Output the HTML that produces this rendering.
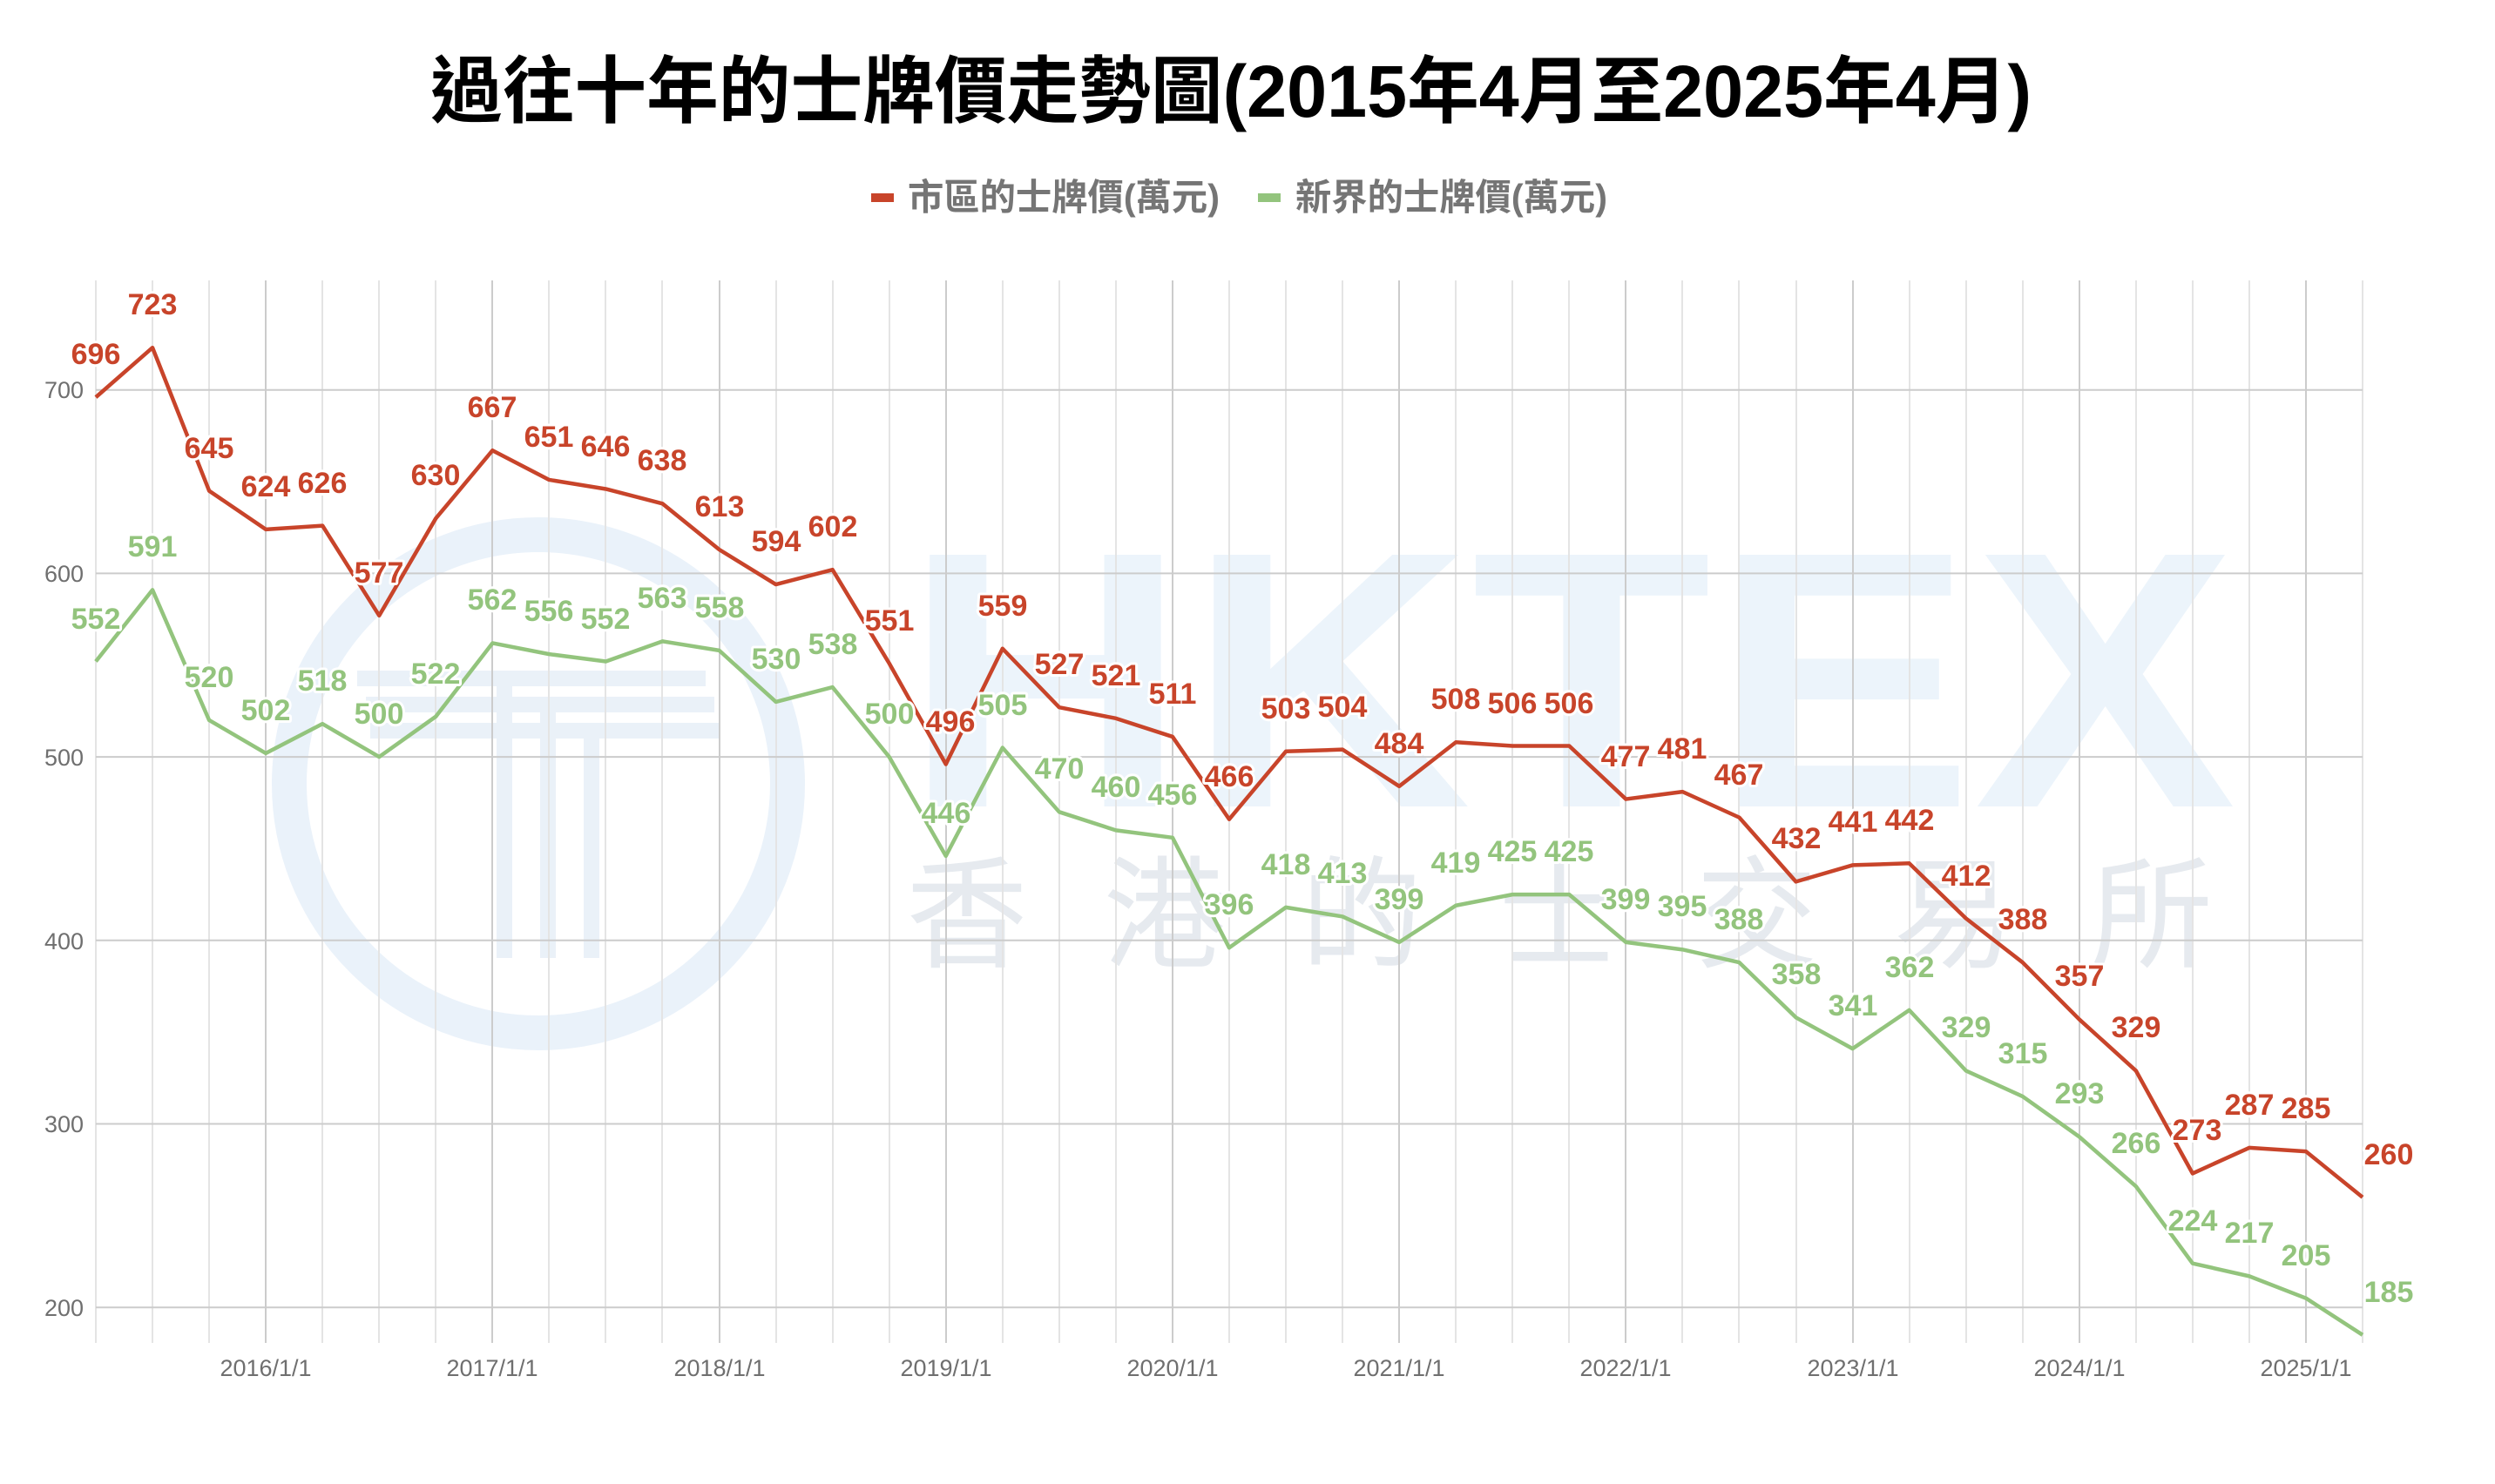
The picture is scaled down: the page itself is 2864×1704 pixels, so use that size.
<!DOCTYPE html>
<html><head><meta charset="utf-8"><style>html,body{margin:0;padding:0;background:#fff}svg{display:block}</style></head>
<body>
<svg width="2864" height="1704" viewBox="0 0 2864 1704" xmlns="http://www.w3.org/2000/svg" font-family="'Liberation Sans','Noto Sans CJK TC',sans-serif">
<rect width="2864" height="1704" fill="#fff"/>
<!-- watermark -->
<g opacity="1">
<circle cx="618" cy="900" r="286" fill="none" stroke="#eaf2fa" stroke-width="40"/>
<g fill="#eaf1f8">
<rect x="410" y="770" width="400" height="18"/>
<rect x="420" y="800" width="400" height="18"/>
<rect x="425" y="830" width="400" height="18"/>
<rect x="570" y="770" width="18" height="330"/>
<rect x="620" y="800" width="18" height="300"/>
<rect x="670" y="830" width="18" height="270"/>
</g>
<text x="1037" y="926" font-size="420" font-weight="bold" fill="#ecf4fb" textLength="1530" lengthAdjust="spacingAndGlyphs">HKTEX</text>
<text x="1040" y="1100" font-size="140" fill="#e6eaef" font-family="'Noto Sans CJK TC',sans-serif" textLength="1500">香港的士交易所</text>
</g>
<!-- title -->
<text x="494" y="134" font-size="84" font-weight="bold" fill="#000" textLength="1838" lengthAdjust="spacingAndGlyphs">過往十年的士牌價走勢圖(2015年4月至2025年4月)</text>
<!-- legend -->
<rect x="1000" y="222" width="26" height="10" fill="#c8442a"/>
<text x="1042" y="241" font-size="42" font-weight="bold" fill="#757575" textLength="358" lengthAdjust="spacingAndGlyphs">市區的士牌價(萬元)</text>
<rect x="1444" y="222" width="26" height="10" fill="#93c47d"/>
<text x="1487" y="241" font-size="42" font-weight="bold" fill="#757575" textLength="358" lengthAdjust="spacingAndGlyphs">新界的士牌價(萬元)</text>
<!-- grid -->
<g stroke="#e4e4e4" stroke-width="2">
<path d="M110 322V1542M175 322V1542M240 322V1542M370 322V1542M435 322V1542M500 322V1542M630 322V1542M695 322V1542M760 322V1542M891 322V1542M956 322V1542M1021 322V1542M1151 322V1542M1216 322V1542M1281 322V1542M1411 322V1542M1476 322V1542M1541 322V1542M1671 322V1542M1736 322V1542M1801 322V1542M1931 322V1542M1996 322V1542M2062 322V1542M2192 322V1542M2257 322V1542M2322 322V1542M2452 322V1542M2517 322V1542M2582 322V1542M2712 322V1542"/>
</g>
<g stroke="#cccccc" stroke-width="2">
<path d="M305 322V1542M565 322V1542M826 322V1542M1086 322V1542M1346 322V1542M1606 322V1542M1866 322V1542M2127 322V1542M2387 322V1542M2647 322V1542"/>
<path d="M110 447.7H2712M110 658.4H2712M110 869.1H2712M110 1079.8H2712M110 1290.5H2712M110 1501.2H2712"/>
</g>
<g font-size="27" fill="#6f6f6f" text-anchor="end">
<text x="96" y="457">700</text><text x="96" y="668">600</text><text x="96" y="879">500</text><text x="96" y="1090">400</text><text x="96" y="1300">300</text><text x="96" y="1511">200</text>
</g>
<g font-size="27" fill="#6f6f6f" text-anchor="middle">
<text x="305" y="1580">2016/1/1</text><text x="565" y="1580">2017/1/1</text><text x="826" y="1580">2018/1/1</text><text x="1086" y="1580">2019/1/1</text><text x="1346" y="1580">2020/1/1</text><text x="1606" y="1580">2021/1/1</text><text x="1866" y="1580">2022/1/1</text><text x="2127" y="1580">2023/1/1</text><text x="2387" y="1580">2024/1/1</text><text x="2647" y="1580">2025/1/1</text>
</g>
<!-- series -->
<g transform="matrix(65.05 0 0 -2.107 110 1922.6)" fill="none" stroke-width="4.5" stroke-linejoin="round">
<polyline vector-effect="non-scaling-stroke" stroke="#93c47d" points="0,552 1,591 2,520 3,502 4,518 5,500 6,522 7,562 8,556 9,552 10,563 11,558 12,530 13,538 14,500 15,446 16,505 17,470 18,460 19,456 20,396 21,418 22,413 23,399 24,419 25,425 26,425 27,399 28,395 29,388 30,358 31,341 32,362 33,329 34,315 35,293 36,266 37,224 38,217 39,205 40,185"/>
<polyline vector-effect="non-scaling-stroke" stroke="#c8442a" points="0,696 1,723 2,645 3,624 4,626 5,577 6,630 7,667 8,651 9,646 10,638 11,613 12,594 13,602 14,551 15,496 16,559 17,527 18,521 19,511 20,466 21,503 22,504 23,484 24,508 25,506 26,506 27,477 28,481 29,467 30,432 31,441 32,442 33,412 34,388 35,357 36,329 37,273 38,287 39,285 40,260"/>
</g>
<g font-size="34" font-weight="bold" text-anchor="middle" fill="#93c47d" stroke="#fff" stroke-width="6" paint-order="stroke" stroke-linejoin="round">
<text x="110" y="722">552</text><text x="175" y="639">591</text><text x="240" y="789">520</text><text x="305" y="827">502</text><text x="370" y="793">518</text><text x="435" y="831">500</text><text x="500" y="785">522</text><text x="565" y="700">562</text><text x="630" y="713">556</text><text x="695" y="722">552</text><text x="760" y="698">563</text><text x="826" y="709">558</text><text x="891" y="768">530</text><text x="956" y="751">538</text><text x="1021" y="831">500</text><text x="1086" y="945">446</text><text x="1151" y="821">505</text><text x="1216" y="894">470</text><text x="1281" y="915">460</text><text x="1346" y="924">456</text><text x="1411" y="1050">396</text><text x="1476" y="1004">418</text><text x="1541" y="1014">413</text><text x="1606" y="1044">399</text><text x="1671" y="1002">419</text><text x="1736" y="989">425</text><text x="1801" y="989">425</text><text x="1866" y="1044">399</text><text x="1931" y="1052">395</text><text x="1996" y="1067">388</text><text x="2062" y="1130">358</text><text x="2127" y="1166">341</text><text x="2192" y="1122">362</text><text x="2257" y="1191">329</text><text x="2322" y="1221">315</text><text x="2387" y="1267">293</text><text x="2452" y="1324">266</text><text x="2517" y="1413">224</text><text x="2582" y="1427">217</text><text x="2647" y="1453">205</text><text x="2742" y="1495">185</text>
</g>
<g font-size="34" font-weight="bold" text-anchor="middle" fill="#c8442a" stroke="#fff" stroke-width="6" paint-order="stroke" stroke-linejoin="round">
<text x="110" y="418">696</text><text x="175" y="361">723</text><text x="240" y="526">645</text><text x="305" y="570">624</text><text x="370" y="566">626</text><text x="435" y="669">577</text><text x="500" y="557">630</text><text x="565" y="479">667</text><text x="630" y="513">651</text><text x="695" y="524">646</text><text x="760" y="540">638</text><text x="826" y="593">613</text><text x="891" y="633">594</text><text x="956" y="616">602</text><text x="1021" y="724">551</text><text x="1091" y="840">496</text><text x="1151" y="707">559</text><text x="1216" y="774">527</text><text x="1281" y="787">521</text><text x="1346" y="808">511</text><text x="1411" y="903">466</text><text x="1476" y="825">503</text><text x="1541" y="823">504</text><text x="1606" y="865">484</text><text x="1671" y="814">508</text><text x="1736" y="819">506</text><text x="1801" y="819">506</text><text x="1866" y="880">477</text><text x="1931" y="871">481</text><text x="1996" y="901">467</text><text x="2062" y="974">432</text><text x="2127" y="955">441</text><text x="2192" y="953">442</text><text x="2257" y="1017">412</text><text x="2322" y="1067">388</text><text x="2387" y="1132">357</text><text x="2452" y="1191">329</text><text x="2522" y="1309">273</text><text x="2582" y="1280">287</text><text x="2647" y="1284">285</text><text x="2742" y="1337">260</text>
</g>
</svg>
</body></html>
